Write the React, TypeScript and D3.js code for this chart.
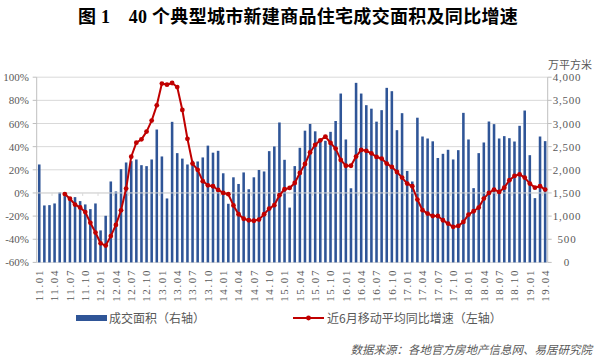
import React from 'react';
import * as d3 from 'd3';

const years = ['11', '12', '13', '14', '15', '16', '17', '18', '19'];
const months: string[] = [];
years.forEach((y) => {
  for (let m = 1; m <= 12; m++) {
    if (y === '19' && m > 4) break;
    months.push(`${y}.${m < 10 ? '0' + m : m}`);
  }
});

// 成交面积（万平方米，右轴）
const areaValues = [
  2115, 1230, 1237, 1273, 1511, 1432, 1396, 1410, 1324, 1252, 1151, 1273,
  691, 1007, 1748, 1532, 2014, 2158, 2187, 2223, 2100, 2079, 2223, 2870,
  2288, 1381, 3036, 2360, 2242, 2115, 2195, 2180, 2267, 2522, 2370, 2410,
  1925, 1266, 1838, 1694, 1943, 1580, 1838, 1996, 1964, 2403, 2504, 3022,
  2216, 1184, 2080, 2475, 2845, 2990, 2831, 2650, 2626, 2820, 3054, 3647,
  2655, 1601, 3878, 3647, 3396, 3320, 3040, 3288, 3770, 3698, 2856, 3223,
  1975, 1748, 3125, 2719, 2676, 2615, 2255, 2345, 2432, 2223, 2424, 3230,
  2655, 1604, 2360, 2590, 3043, 2986, 2676, 2727, 2683, 2611, 2950, 3280,
  2316, 1388, 2719, 2619,
];

// 近6月移动平均同比增速（%，左轴）
const growthValues: (number | null)[] = [
  null, null, null, null, null, -1, -5, -10, -12.5, -16.5, -25.8, -34.2,
  -43.5, -45.5, -37.3, -27.6, -15, 3.8, 31.3, 43.4, 46.3, 53, 62.5, 75.7,
  94.5, 93.5, 95, 91.5, 71.7, 46.8, 25.4, 20, 10.2, 6.6, 5.8, 2.6,
  0, -1.1, -10.8, -18.4, -22.3, -23.6, -24, -23, -18.4, -13.5, -10.6, -2,
  3.2, 4.3, 8.6, 17.3, 25, 35, 41.6, 45.5, 48.7, 43.2, 38.3, 28.5,
  23.5, 23.5, 31.4, 37.2, 36.4, 34.2, 31.1, 29.7, 25.4, 22.5, 18.1, 13.3,
  8.1, 5.8, -5.7, -14.9, -17.8, -19.9, -19.9, -23.6, -26.5, -29.3, -28.5, -25,
  -18.7, -15.8, -12.6, -4.9, 0, 2.9, 0.9, 4.6, 11, 14.7, 16.1, 13.3,
  8.1, 4.6, 5.8, 2.9,
];

const tickLabels = [
  '11.01', '11.04', '11.07', '11.10', '12.01', '12.04', '12.07', '12.10',
  '13.01', '13.04', '13.07', '13.10', '14.01', '14.04', '14.07', '14.10',
  '15.01', '15.04', '15.07', '15.10', '16.01', '16.04', '16.07', '16.10',
  '17.01', '17.04', '17.07', '17.10', '18.01', '18.04', '18.07', '18.10',
  '19.01', '19.04',
];
const leftTicks = [-60, -40, -20, 0, 20, 40, 60, 80, 100];
const rightTicks = [0, 500, 1000, 1500, 2000, 2500, 3000, 3500, 4000];

const W = 599;
const H = 361;
const X0 = 36.7;
const X1 = 547.7;
const YT = 77.2;
const YB = 262.4;

const BLUE = '#2f5597';
const RED = '#c00000';
const GRID = '#d9d9d9';
const TEXT = '#595959';
const SERIF = "'Liberation Serif', 'Noto Sans CJK SC', serif";
const CJK = "'Noto Sans CJK SC', 'Liberation Serif', sans-serif";

export default function App() {
  const x = d3
    .scaleBand<string>()
    .domain(months)
    .range([X0, X1])
    .paddingInner(0.5)
    .paddingOuter(0.25);
  const step = x.step();
  const cx = (m: string) => (x(m) as number) + x.bandwidth() / 2;
  const yL = d3.scaleLinear().domain([-60, 100]).range([YB, YT]);
  const yR = d3.scaleLinear().domain([0, 4000]).range([YB, YT]);
  const y0 = yL(0);

  const line = d3
    .line<number | null>()
    .defined((d) => d !== null)
    .x((_, i) => cx(months[i]))
    .y((d) => yL(d as number));

  const fmt = d3.format(',');

  return (
    <svg
      width={W}
      height={H}
      style={{ position: 'absolute', left: 0, top: 0, background: '#fff' }}
    >
      <rect x={0} y={0} width={W} height={H} fill="#fff" />
      {/* title */}
      <text
        x={298}
        y={23}
        textAnchor="middle"
        fontFamily={SERIF}
        fontWeight="bold"
        fontSize={18}
        letterSpacing={0.3}
        fill="#000"
      >
        图 1　40 个典型城市新建商品住宅成交面积及同比增速
      </text>

      {/* gridlines */}
      {leftTicks.map((t) => (
        <line
          key={'g' + t}
          x1={X0}
          x2={X1}
          y1={yL(t)}
          y2={yL(t)}
          stroke={GRID}
          strokeWidth={1}
        />
      ))}

      {/* bars */}
      {areaValues.map((v, i) => (
        <rect
          key={'b' + i}
          x={x(months[i])}
          y={yR(v)}
          width={x.bandwidth()}
          height={YB - yR(v)}
          fill={BLUE}
        />
      ))}

      {/* category axis at 0% */}
      <line x1={X0} x2={X1} y1={y0} y2={y0} stroke={GRID} strokeWidth={1} />
      {months.map((m, i) =>
        i % 3 === 0 ? (
          <line
            key={'ct' + i}
            x1={X0 + i * step}
            x2={X0 + i * step}
            y1={y0}
            y2={y0 + 3}
            stroke={GRID}
          />
        ) : null
      )}

      {/* value axes */}
      <line x1={X0} x2={X0} y1={YT} y2={YB} stroke="#bfbfbf" />
      <line x1={X1} x2={X1} y1={YT} y2={YB} stroke="#bfbfbf" />
      {leftTicks.map((t) => (
        <g key={'lt' + t}>
          <line x1={X0 - 4} x2={X0} y1={yL(t)} y2={yL(t)} stroke="#bfbfbf" />
          <text
            x={29}
            y={yL(t) + 4}
            textAnchor="end"
            fontFamily={SERIF}
            fontSize={11}
            fill={TEXT}
          >
            {t + '%'}
          </text>
        </g>
      ))}
      {rightTicks.map((t) => (
        <g key={'rt' + t}>
          <line x1={X1} x2={X1 + 4} y1={yR(t)} y2={yR(t)} stroke="#bfbfbf" />
          <text
            x={567}
            y={yR(t) + 4}
            textAnchor="middle"
            fontFamily={SERIF}
            fontSize={11}
            letterSpacing={0.8}
            fill={TEXT}
          >
            {fmt(t)}
          </text>
        </g>
      ))}
      <text x={570} y={69} textAnchor="middle" fontFamily={CJK} fontSize={11} fill={TEXT}>
        万平方米
      </text>

      {/* x tick labels */}
      {tickLabels.map((lab) => {
        const px = cx(lab);
        return (
          <text
            key={'xl' + lab}
            transform={`translate(${px + 3.8},269) rotate(-90)`}
            textAnchor="end"
            fontFamily={SERIF}
            fontSize={11}
            letterSpacing={1.6}
            fill={TEXT}
          >
            {lab}
          </text>
        );
      })}

      {/* line series */}
      <path
        d={line(growthValues) || ''}
        fill="none"
        stroke={RED}
        strokeWidth={2}
        strokeLinejoin="round"
      />
      {growthValues.map((v, i) =>
        v === null ? null : (
          <circle key={'m' + i} cx={cx(months[i])} cy={yL(v)} r={2.4} fill={RED} />
        )
      )}

      {/* legend */}
      <rect x={76} y={315} width={31} height={6} fill={BLUE} />
      <text x={109} y={322.5} fontFamily={CJK} fontSize={12} fill={TEXT}>
        成交面积（右轴）
      </text>
      <line x1={293} x2={324} y1={318} y2={318} stroke={RED} strokeWidth={2} />
      <circle cx={308.5} cy={318} r={2.4} fill={RED} />
      <text x={327} y={322.5} fontFamily={CJK} fontSize={12} fill={TEXT}>
        近6月移动平均同比增速（左轴）
      </text>

      {/* source */}
      <text
        x={592}
        y={354}
        textAnchor="end"
        fontFamily={CJK}
        fontSize={11.5}
        fontStyle="italic"
        fill={TEXT}
      >
        数据来源：各地官方房地产信息网、易居研究院
      </text>
    </svg>
  );
}
